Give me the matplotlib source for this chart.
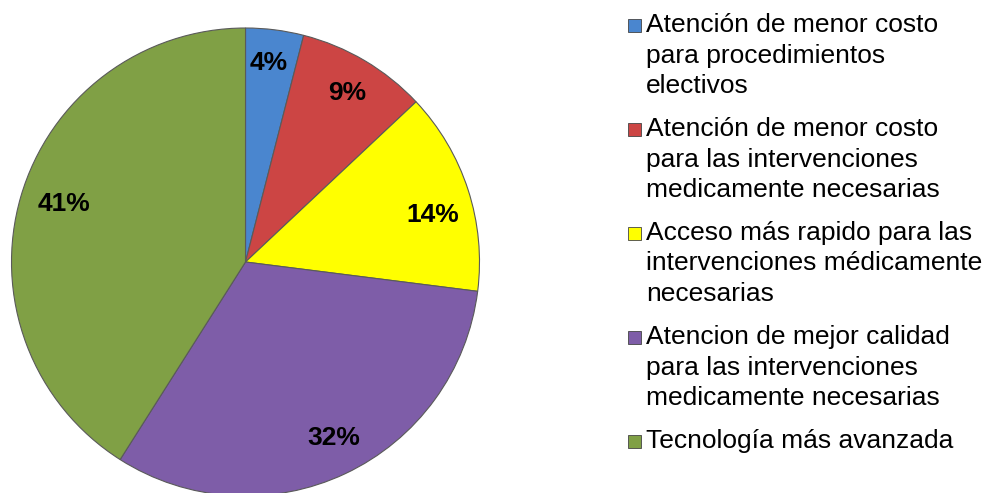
import matplotlib
matplotlib.use("Agg")
import matplotlib.pyplot as plt
from matplotlib.patches import Rectangle
from matplotlib.transforms import offset_copy

plt.rcParams['font.family'] = ['Liberation Sans', 'DejaVu Sans']

categories = [
    ["Atención de menor costo", "para procedimientos", "electivos"],
    ["Atención de menor costo", "para las intervenciones", "medicamente necesarias"],
    ["Acceso más rapido para las", "intervenciones médicamente", "necesarias"],
    ["Atencion de mejor calidad", "para las intervenciones", "medicamente necesarias"],
    ["Tecnología más avanzada"],
]
values = [4, 9, 14, 32, 41]
colors = ["#4A86CF", "#CC4544", "#FFFF00", "#7E5DA8", "#80A045"]

W, H = 987, 493
fig = plt.figure(figsize=(W / 100, H / 100), dpi=100)

# pie axes (pixel geometry: center (245.5, 262) from top, radius 234)
cx, cy, r = 245.5, 262, 234
ax = fig.add_axes([(cx - r) / W, (H - cy - r) / H, 2 * r / W, 2 * r / H])
wedges, texts, autotexts = ax.pie(
    values, colors=colors, startangle=90, counterclock=False,
    autopct=lambda p: f"{p:.0f}%", pctdistance=0.84,
    wedgeprops=dict(edgecolor="#5a5a5a", linewidth=0.8),
    textprops=dict(fontsize=19, fontweight="bold", color="black"),
)
# small label nudges (points) to match the reference placement
nudges = [(-1, 3), (1, 0), (0, -10), (3, 1), (5, 2)]
for t, (dx, dy) in zip(autotexts, nudges):
    t.set_transform(offset_copy(ax.transData, fig=fig, x=dx, y=dy, units="points"))

ax.set_xlim(-1, 1)
ax.set_ylim(-1, 1)
ax.set_aspect("equal")
ax.axis("off")

# legend drawn manually (marker aligned with first line)
line_h = 30.5
gap = 12.5
baseline = 32
for lines, col in zip(categories, colors):
    fig.add_artist(Rectangle(((628) / W, (H - baseline) / H), 13 / W, 13 / H,
                             transform=fig.transFigure, facecolor=col,
                             edgecolor="#444444", linewidth=0.6))
    for i, ln in enumerate(lines):
        fig.text(646 / W, (H - (baseline + i * line_h)) / H, ln,
                 fontsize=19, va="baseline", ha="left", color="black")
    baseline += len(lines) * line_h + gap

fig.savefig("out.png", dpi=100)
